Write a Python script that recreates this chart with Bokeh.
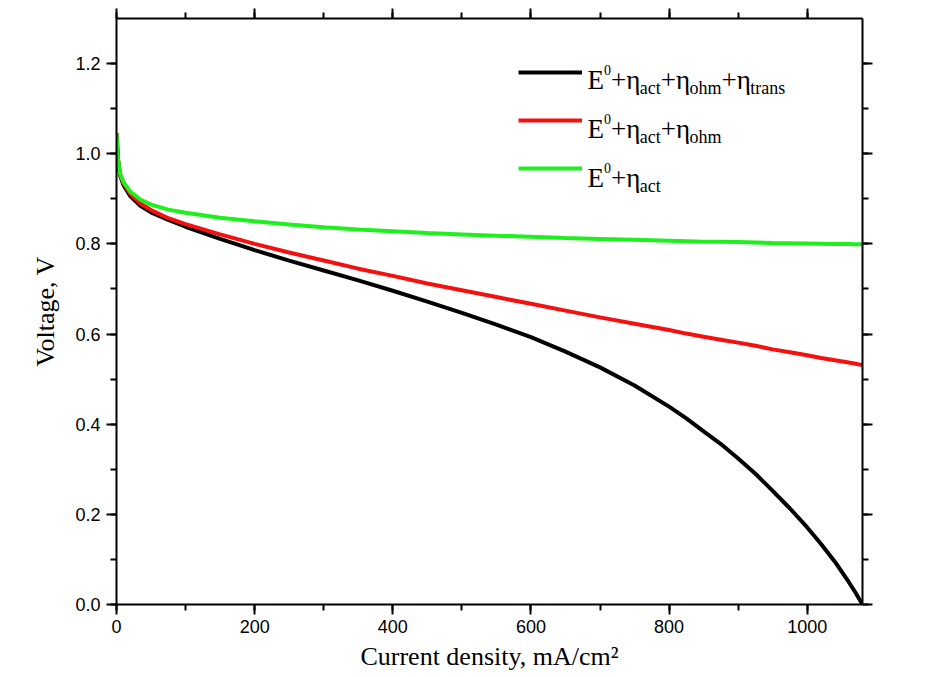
from bokeh.plotting import figure
from bokeh.models import (Range1d, LinearAxis, SingleIntervalTicker, PrintfTickFormatter,
                          CustomJSTickFormatter, Legend, LegendItem, Label)
from bokeh.core.properties import value
from bokeh.embed import file_html
from bokeh.resources import INLINE

# ---- data ----
current = [0, 2, 5, 10, 20, 35, 50, 75, 100, 150, 200, 250, 300, 350, 400, 450, 500, 550,
           600, 650, 700, 750, 800, 825, 850, 875, 900, 925, 950, 975, 1000, 1020, 1040,
           1060, 1070, 1080]
v_act = [1.045, 0.990, 0.957, 0.937, 0.916, 0.898, 0.887, 0.876, 0.869, 0.858, 0.850,
         0.843, 0.837, 0.832, 0.828, 0.824, 0.821, 0.818, 0.816, 0.813, 0.811, 0.809,
         0.807, 0.806, 0.805, 0.8045, 0.804, 0.803, 0.802, 0.8015, 0.801, 0.8005, 0.800,
         0.7995, 0.799, 0.799]
v_act_ohm = [1.045, 0.990, 0.956, 0.935, 0.911, 0.889, 0.875, 0.857, 0.844, 0.821, 0.800,
             0.781, 0.763, 0.745, 0.729, 0.712, 0.697, 0.682, 0.667, 0.652, 0.637, 0.623,
             0.609, 0.601, 0.594, 0.5875, 0.581, 0.574, 0.566, 0.5595, 0.553, 0.547, 0.542,
             0.537, 0.534, 0.531]
v_all = [1.045, 0.988, 0.953, 0.931, 0.906, 0.884, 0.870, 0.853, 0.838, 0.811, 0.786,
         0.763, 0.741, 0.719, 0.696, 0.672, 0.647, 0.621, 0.593, 0.561, 0.526, 0.486,
         0.439, 0.413, 0.384, 0.356, 0.324, 0.290, 0.252, 0.213, 0.171, 0.134, 0.095,
         0.050, 0.026, 0.0]

X_MAX, Y_MAX = 1080, 1.3
FW, FH = 746, 586
LEFT, TOP = 116, 18

p = figure(frame_width=FW, frame_height=FH, x_range=Range1d(0, X_MAX), y_range=Range1d(0, Y_MAX),
           output_backend="svg", toolbar_location=None, x_axis_location=None, y_axis_location=None,
           min_border_left=LEFT, min_border_top=TOP, min_border_right=61, min_border_bottom=70)
p.grid.visible = False
p.outline_line_color = None
p.background_fill_color = "white"
p.border_fill_color = "white"

SANS = "Liberation Sans"
SERIF = "Liberation Serif"

def style(ax, labels=True):
    ax.axis_line_width = 2
    ax.major_tick_line_width = 2
    ax.minor_tick_line_width = 2
    ax.major_tick_in = 0
    ax.major_tick_out = 10
    ax.minor_tick_in = 0
    ax.minor_tick_out = 6
    ax.axis_line_color = "black"
    ax.major_tick_line_color = "black"
    ax.minor_tick_line_color = "black"
    ax.major_label_text_font = SANS
    ax.major_label_text_font_size = "18px"
    ax.major_label_text_color = "black"
    ax.axis_label_text_font = SERIF
    ax.axis_label_text_font_size = "26px"
    ax.axis_label_text_font_style = "normal"
    ax.axis_label_text_color = "black"
    if not labels:
        ax.formatter = CustomJSTickFormatter(code="return ''")
        ax.major_label_text_font_size = "1px"
        ax.major_label_standoff = 0

xb = LinearAxis(ticker=SingleIntervalTicker(interval=200, num_minor_ticks=2),
                axis_label="Current density, mA/cm²")
style(xb)
xb.major_label_standoff = 5
xb.axis_label_standoff = 6
yl = LinearAxis(ticker=SingleIntervalTicker(interval=0.2, num_minor_ticks=2),
                formatter=PrintfTickFormatter(format="%.1f"), axis_label="Voltage, V")
style(yl)
yl.major_label_standoff = 6
yl.axis_label_standoff = 12
xt = LinearAxis(ticker=SingleIntervalTicker(interval=200, num_minor_ticks=2))
style(xt, labels=False)
yr = LinearAxis(ticker=SingleIntervalTicker(interval=0.2, num_minor_ticks=2))
style(yr, labels=False)
p.add_layout(xb, "below")
p.add_layout(yl, "left")
p.add_layout(xt, "above")
p.add_layout(yr, "right")

r_all = p.line(current, v_all, line_color="#000000", line_width=4)
r_ohm = p.line(current, v_act_ohm, line_color="#f51010", line_width=4)
r_act = p.line(current, v_act, line_color="#1ef01e", line_width=4)

legend = Legend(items=[LegendItem(label=value(""), renderers=[r_all]),
                       LegendItem(label=value(""), renderers=[r_ohm]),
                       LegendItem(label=value(""), renderers=[r_act])],
                location=(402, 426), glyph_width=64, glyph_height=20, label_width=0,
                label_height=20, label_standoff=0, spacing=28, padding=0, margin=0,
                border_line_color=None, background_fill_alpha=0, label_text_font_size="1px")
p.add_layout(legend)

# ---- legend texts with super/subscripts (page pixel layout converted to data units) ----
FRAME_L, FRAME_T = 116, 18
def to_data(px, py):
    return (px - FRAME_L) * X_MAX / FW, (FRAME_T + FH - py) * Y_MAX / FH

EM = {"E": .611, "0": .5, "+": .564, "η": .5, "a": .444, "c": .444, "t": .278, "o": .5,
      "h": .5, "m": .778, "r": .333, "n": .5, "s": .389}
MAIN, SUB, SUP = 27, 18, 14
rows = [
    [("E", "m"), ("0", "sup"), ("+η", "m"), ("act", "sub"), ("+η", "m"), ("ohm", "sub"),
     ("+η", "m"), ("trans", "sub")],
    [("E", "m"), ("0", "sup"), ("+η", "m"), ("act", "sub"), ("+η", "m"), ("ohm", "sub")],
    [("E", "m"), ("0", "sup"), ("+η", "m"), ("act", "sub")],
]
baselines = [79, 128, 177]
for row, base in zip(rows, baselines):
    x = 587.0
    for txt, kind in row:
        size = {"m": MAIN, "sub": SUB, "sup": SUP}[kind]
        dy = {"m": 0, "sub": 8, "sup": -10}[kind]
        dx_, dy_ = to_data(x, base + dy)
        p.add_layout(Label(x=dx_, y=dy_, text=txt, text_font=SERIF, text_font_size=f"{size}px",
                           text_color="black", text_baseline="alphabetic", text_align="left"))
        x += sum(EM[c] for c in txt) * size

open("out.html", "w").write(file_html(p, INLINE))
